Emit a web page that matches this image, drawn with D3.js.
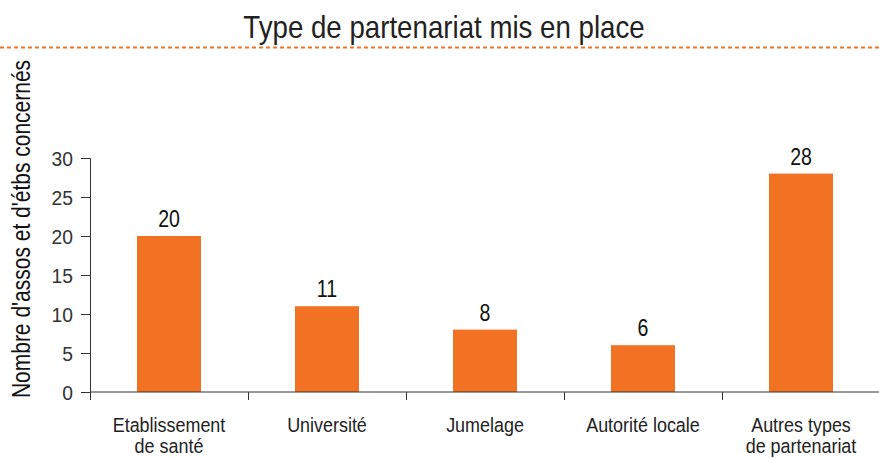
<!DOCTYPE html>
<html>
<head>
<meta charset="utf-8">
<script src="https://cdn.jsdelivr.net/npm/d3@7"></script>
<style>
body { margin: 0; background: #fff; }
text { font-family: "Liberation Sans", Arial, sans-serif; }
</style>
</head>
<body>
<div id="chart"></div>
<script>
var categories = [["Etablissement", "de santé"], ["Université"], ["Jumelage"], ["Autorité locale"], ["Autres types", "de partenariat"]];
var values = [20, 11, 8, 6, 28];
var yTicks = [0, 5, 10, 15, 20, 25, 30];

var width = 879, height = 458;
var margin = {top: 158, right: 0, bottom: 66, left: 90};
var orange = "#f27224";

var svg = d3.select("#chart").append("svg")
	.attr("width", width)
	.attr("height", height);

// narrow text: the source font is a condensed face
function place(sel, x, y, sx) {
	return sel.attr("transform", "translate(" + x + "," + y + ") scale(" + sx + ",1)");
}

// title
place(svg.append("text"), 444, 38, 0.865)
	.attr("text-anchor", "middle")
	.attr("font-size", 32)
	.attr("fill", "#222")
	.text("Type de partenariat mis en place");

svg.append("line")
	.attr("x1", 0)
	.attr("x2", width)
	.attr("y1", 47.5)
	.attr("y2", 47.5)
	.attr("stroke", orange)
	.attr("stroke-width", 2)
	.attr("stroke-dasharray", "4 3");

var x = d3.scaleBand()
	.domain(d3.range(values.length))
	.range([margin.left, width + 1]);

var y = d3.scaleLinear()
	.domain([0, 30])
	.range([height - margin.bottom, margin.top]);

var barW = x.bandwidth() * 0.405;

// bars
svg.selectAll("rect.bar")
	.data(values)
	.enter().append("rect")
	.attr("class", "bar")
	.attr("x", function(d, i){ return x(i) + (x.bandwidth() - barW) / 2; })
	.attr("y", function(d){ return y(d); })
	.attr("width", barW)
	.attr("height", function(d){ return y(0) - y(d); })
	.attr("fill", orange);

// value labels
svg.selectAll("text.val")
	.data(values)
	.enter().append("text")
	.attr("class", "val")
	.attr("transform", function(d, i){ return "translate(" + (x(i) + x.bandwidth() / 2) + "," + (y(d) - 9) + ") scale(0.85,1)"; })
	.attr("text-anchor", "middle")
	.attr("font-size", 23)
	.attr("fill", "#111")
	.text(function(d){ return d; });

// y axis
var yAxis = svg.append("g")
	.attr("transform", "translate(" + margin.left + ",0)")
	.call(d3.axisLeft(y).tickValues(yTicks).tickSize(9).tickFormat(""));
yAxis.select(".domain").attr("stroke", "#333");
yAxis.selectAll(".tick line").attr("stroke", "#333");
yAxis.selectAll(".tick").append("text")
	.attr("transform", "translate(-17,0) scale(0.92,1)")
	.attr("dy", "0.36em")
	.attr("x", 0)
	.attr("text-anchor", "end")
	.attr("font-size", 21)
	.attr("fill", "#333")
	.text(function(d){ return d; });

// x axis
var xAxis = svg.append("g")
	.attr("transform", "translate(0," + y(0) + ")");
xAxis.append("line")
	.attr("x1", margin.left)
	.attr("x2", width)
	.attr("stroke", "#333");
xAxis.selectAll("line.tk")
	.data(d3.range(values.length + 1))
	.enter().append("line")
	.attr("class", "tk")
	.attr("x1", function(i){ return Math.round(margin.left + i * x.step()) + 0.5; })
	.attr("x2", function(i){ return Math.round(margin.left + i * x.step()) + 0.5; })
	.attr("y1", 0)
	.attr("y2", 8)
	.attr("stroke", "#333");

var catLabels = xAxis.selectAll("text.cat")
	.data(categories)
	.enter().append("text")
	.attr("class", "cat")
	.attr("text-anchor", "middle")
	.attr("font-size", 20.5)
	.attr("fill", "#222")
	.attr("transform", function(d, i){ return "translate(" + (x(i) + x.bandwidth() / 2) + ",0) scale(0.875,1)"; });
catLabels.selectAll("tspan")
	.data(function(d){ return d; })
	.enter().append("tspan")
	.attr("x", 0)
	.attr("y", function(d, j){ return 40 + j * 21; })
	.text(function(d){ return d; });

// y axis title
svg.append("text")
	.attr("transform", "translate(30,229) rotate(-90) scale(0.84,1)")
	.attr("text-anchor", "middle")
	.attr("font-size", 25)
	.attr("fill", "#111")
	.text("Nombre d'assos et d'étbs concernés");
</script>
</body>
</html>
